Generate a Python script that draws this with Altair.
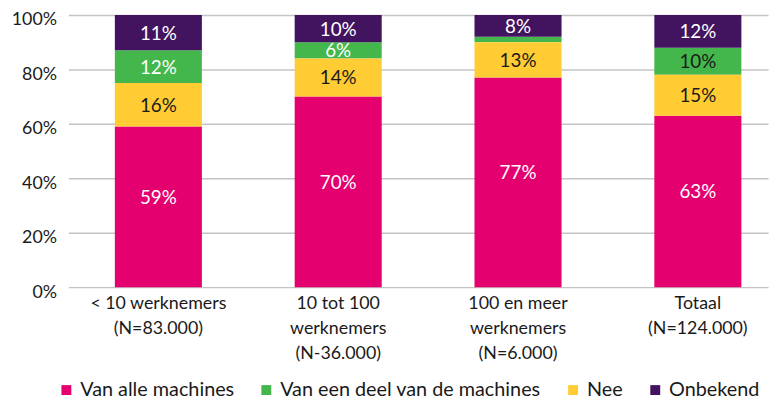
import altair as alt
import pandas as pd

categories = ["< 10 werknemers|(N=83.000)", "10 tot 100|werknemers|(N-36.000)",
              "100 en meer|werknemers|(N=6.000)", "Totaal|(N=124.000)"]
series = ["Van alle machines", "Van een deel van de machines", "Nee", "Onbekend"]
stack_rank = [0, 2, 1, 3]  # stacking order from bottom
colors = ["#E4006F", "#43B74B", "#FFCC33", "#42145F"]

# segment heights (percent)
v_alle = [59, 70, 77, 63]
v_deel = [12, 6, 2, 10]
v_nee = [16, 14, 13, 15]
v_onbekend = [13, 10, 8, 12]

# printed labels
l_alle = ["59%", "70%", "77%", "63%"]
l_deel = ["12%", "6%", "", "10%"]
l_nee = ["16%", "14%", "13%", "15%"]
l_onbekend = ["11%", "10%", "8%", "12%"]

rows = []
for s, vals, labs, r in zip(series, [v_alle, v_deel, v_nee, v_onbekend],
                            [l_alle, l_deel, l_nee, l_onbekend], stack_rank):
    for c, v, l in zip(categories, vals, labs):
        rows.append({"cat": c, "series": s, "value": v, "label": l, "rank": r})
df = pd.DataFrame(rows)

FONT = "Lato"

x = alt.X("cat:N", sort=categories, title=None,
          scale=alt.Scale(paddingInner=0.516, paddingOuter=0.2035, align=0.635),
          axis=alt.Axis(labelExpr="split(datum.label, '|')", labelAngle=0,
                        labelFontSize=18, labelLineHeight=25, labelPadding=8,
                        labelColor="#1a1a1a", ticks=False, domain=False,
                        labelBaseline="top", labelLimit=0))

bars = alt.Chart(df).mark_bar().encode(
    x=x,
    y=alt.Y("value:Q", stack="zero", title=None,
            scale=alt.Scale(domain=[0, 100]),
            axis=alt.Axis(values=[0, 20, 40, 60, 80, 100],
                          labelExpr="datum.value + '%'", labelFontSize=18,
                          labelColor="#1a1a1a", labelPadding=12, labelOffset=5,
                          ticks=False, domain=False, grid=True,
                          gridColor="#C4C4C4", gridWidth=1.5)),
    color=alt.Color("series:N", sort=series,
                    scale=alt.Scale(domain=series, range=colors),
                    legend=alt.Legend(title=None, orient="none", direction="horizontal",
                                      legendX=-12, legendY=369, symbolType="square",
                                      symbolSize=100, symbolStrokeWidth=0,
                                      labelFontSize=20, labelColor="#1a1a1a",
                                      labelOffset=4, columnPadding=22, padding=0,
                                      labelLimit=0)),
    order=alt.Order("rank:Q", sort="ascending"),
)

base_text = alt.Chart(df).transform_stack(
    stack="value", groupby=["cat"], sort=[alt.SortField("rank", order="ascending")],
    as_=["y0", "y1"]
).transform_calculate(
    mid="(datum.y0 + datum.y1) / 2"
)

enc = dict(
    x=alt.X("cat:N", sort=categories),
    y=alt.Y("mid:Q"),
    text="label:N",
    color=alt.condition(
        "datum.series == 'Nee' || (datum.series == 'Van een deel van de machines' && indexof(datum.cat, 'Totaal') == 0)",
        alt.value("#1a1a1a"), alt.value("white")),
)

text_main = base_text.transform_filter(
    "datum.series == 'Van alle machines'"
).mark_text(fontSize=19, font=FONT, dy=-9).encode(**enc)

text_rest = base_text.transform_filter(
    "datum.series != 'Van alle machines'"
).mark_text(fontSize=19, font=FONT, dy=1).encode(**enc)

chart = alt.layer(bars, text_main, text_rest).properties(
    width=707, height=275,
    autosize=alt.AutoSizeParams(type="none"),
    padding={"left": 61, "top": 5, "right": 8, "bottom": 112},
).configure(font=FONT).configure_view(stroke=None)

chart.save("out.html", embed_options={"renderer": "svg", "actions": False})
